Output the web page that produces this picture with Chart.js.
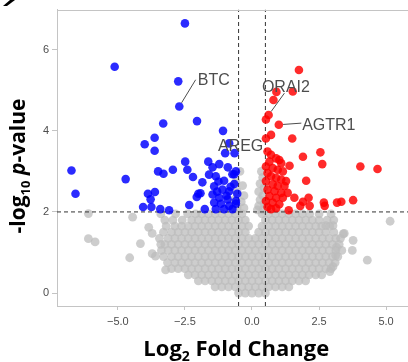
<!DOCTYPE html>
<html>
<head>
<meta charset="utf-8">
<script src="https://cdn.jsdelivr.net/npm/chart.js@4.4.1/dist/chart.umd.min.js"></script>
<style>
  html, body { margin: 0; padding: 0; overflow: hidden; background: #fff; }
</style>
</head>
<body>
<canvas id="volcano" width="420" height="362"></canvas>
<script>
// axis ticks
const xTicks = [-5, -2.5, 0, 2.5, 5];
const xTickLabels = ['−5.0', '−2.5', '0.0', '2.5', '5.0'];
const yTicks = [0, 2, 4, 6];
const yTickLabels = ['0', '2', '4', '6'];

// cut-offs (log2FC and -log10 p)
const fcCut = 0.5;
const pCut = 2;

// down-regulated genes [log2FC, -log10 p]
const downGenes = [
  [-2.50, 6.65], [-5.12, 5.58], [-2.75, 5.22], [-2.71, 4.60], [-3.31, 4.18], [-2.05, 4.24],
  [-1.08, 4.00], [-3.63, 3.83], [-4.00, 3.67], [-3.63, 3.51], [-6.73, 3.02], [-6.58, 2.45],
  [-4.71, 2.81], [-3.50, 3.00], [-3.30, 2.94], [-2.95, 3.04], [-2.49, 3.24], [-2.41, 3.04],
  [-2.20, 2.86], [-1.63, 3.24], [-1.85, 2.73], [-3.88, 2.45], [-3.62, 2.49], [-3.78, 2.31],
  [-4.06, 2.12], [-3.75, 2.12], [-3.42, 2.07], [-3.09, 2.04], [-2.34, 2.17], [-2.00, 2.45],
  [-1.92, 2.46], [-1.76, 2.07], [-2.06, 2.37], [-1.00, 3.45], [-0.65, 3.45], [-0.85, 3.69],
  [-1.22, 3.18], [-1.47, 3.10], [-1.60, 2.92], [-1.35, 2.88], [-1.04, 2.77], [-0.66, 2.93],
  [-0.66, 2.69], [-1.41, 2.63], [-1.10, 2.55], [-0.85, 2.51], [-1.47, 2.43], [-1.22, 2.35],
  [-0.91, 2.31], [-0.60, 2.27], [-1.41, 2.23], [-1.16, 2.20], [-0.85, 2.15], [-0.60, 2.20],
  [-1.35, 2.07], [-0.73, 2.07], [-1.04, 2.07], [-0.73, 2.93], [-0.80, 2.62], [-1.25, 2.75],
  [-0.95, 2.40], [-0.55, 2.45], [-1.30, 2.50], [-0.60, 3.00], [-0.90, 3.10]
];

// up-regulated genes
const upGenes = [
  [1.75, 5.50], [0.91, 4.96], [1.52, 4.97], [0.80, 4.76], [0.62, 4.39], [0.52, 4.28],
  [1.00, 4.15], [0.71, 3.90], [0.52, 3.81], [1.50, 3.81], [2.55, 3.47], [1.90, 3.36],
  [2.62, 3.18], [4.04, 3.12], [4.68, 3.06], [1.40, 3.14], [2.02, 2.77], [1.58, 2.35],
  [2.11, 2.35], [1.90, 2.25], [1.80, 2.15], [2.15, 2.15], [2.68, 2.23], [2.71, 2.15],
  [3.17, 2.23], [3.33, 2.25], [3.77, 2.29], [1.37, 2.04], [0.58, 3.49], [0.71, 3.41],
  [0.90, 3.32], [1.02, 3.28], [1.09, 3.20], [0.65, 3.24], [0.52, 3.12], [0.77, 3.08],
  [0.96, 3.04], [1.15, 3.00], [0.58, 2.96], [0.71, 2.88], [0.90, 2.84], [1.09, 2.80],
  [1.27, 2.76], [0.52, 2.76], [0.77, 2.68], [0.96, 2.64], [1.21, 2.64], [0.58, 2.55],
  [0.84, 2.51], [1.09, 2.47], [1.33, 2.47], [0.65, 2.39], [0.90, 2.35], [1.15, 2.35],
  [0.52, 2.27], [0.77, 2.23], [1.02, 2.19], [0.58, 2.12], [0.90, 2.09], [0.71, 2.07]
];

// not significant genes, read row by row from the cloud
const grayRowY = [0.0, 0.15, 0.3, 0.45, 0.6, 0.75, 0.9, 1.05, 1.2, 1.35, 1.5, 1.65, 1.8, 1.95];
const grayRowX = [
  [-0.5, -0.25, 0, 0.25, 0.5],
  [-1.375, -1.125, -0.875, -0.625, -0.375, -0.125, 0.125, 0.375, 0.625, 0.875, 1.125, 1.375],
  [-2, -1.75, -1.5, -1.25, -1, -0.75, -0.5, -0.25, 0, 0.25, 0.5, 0.75, 1, 1.25, 1.5, 1.75, 2],
  [-2.375, -2.125, -1.875, -1.625, -1.375, -1.125, -0.875, -0.625, -0.375, -0.125, 0.125, 0.375, 0.625, 0.875, 1.125, 1.375, 1.625, 1.875, 2.125, 2.375, 2.6],
  [-3, -2.75, -2.5, -2.25, -2, -1.75, -1.5, -1.25, -1, -0.75, -0.5, -0.25, 0, 0.25, 0.5, 0.75, 1, 1.25, 1.5, 1.75, 2, 2.25, 2.5, 2.75, 2.95],
  [-3.15, -2.875, -2.625, -2.375, -2.125, -1.875, -1.625, -1.375, -1.125, -0.875, -0.625, -0.375, -0.125, 0.125, 0.375, 0.625, 0.875, 1.125, 1.375, 1.625, 1.875, 2.125, 2.375, 2.625, 2.875, 3.1],
  [-3.3, -3, -2.75, -2.5, -2.25, -2, -1.75, -1.5, -1.25, -1, -0.75, -0.5, -0.25, 0, 0.25, 0.5, 0.75, 1, 1.25, 1.5, 1.75, 2, 2.25, 2.5, 2.75, 3, 3.2],
  [-3.375, -3.125, -2.875, -2.625, -2.375, -2.125, -1.875, -1.625, -1.375, -1.125, -0.875, -0.625, -0.375, -0.125, 0.125, 0.375, 0.625, 0.875, 1.125, 1.375, 1.625, 1.875, 2.125, 2.375, 2.625, 2.875, 3.125, 3.35],
  [-3.4, -3.25, -3, -2.75, -2.5, -2.25, -2, -1.75, -1.5, -1.25, -1, -0.75, -0.5, -0.25, 0, 0.25, 0.5, 0.75, 1, 1.25, 1.5, 1.75, 2, 2.25, 2.5, 2.75, 3, 3.25],
  [-3.45, -3.125, -2.875, -2.625, -2.375, -2.125, -1.875, -1.625, -1.375, -1.125, -0.875, -0.625, -0.375, -0.125, 0.125, 0.375, 0.625, 0.875, 1.125, 1.375, 1.625, 1.875, 2.125, 2.375, 2.625, 2.875, 3.125, 3.3],
  [-3.3, -3, -2.75, -2.5, -2.25, -2, -1.75, -1.5, -1.25, -1, -0.75, -0.5, -0.25, 0.25, 0.5, 0.75, 1, 1.25, 1.5, 1.75, 2, 2.25, 2.5, 2.75, 3.05],
  [-3.2, -2.875, -2.625, -2.375, -2.125, -1.875, -1.625, -1.375, -1.125, -0.875, -0.625, -0.375, -0.125, 0.375, 0.625, 0.875, 1.125, 1.375, 1.625, 1.875, 2.125, 2.375, 2.6, 2.9],
  [-3.25, -2.95, -2.6, -2.25, -2, -1.75, -1.5, -1.25, -1, -0.75, -0.5, -0.25, 0.5, 0.75, 1, 1.25, 1.5, 1.75, 2, 2.25, 2.5, 2.8, 3.05],
  [-3.4, -2.85, -2.4, -2.1, -1.875, -1.625, -1.375, -1.125, -0.875, -0.625, -0.375, 0.375, 0.625, 0.875, 1.125, 1.375, 1.625, 1.875, 2.15, 2.5, 2.95]
];
const grayExtra = [
  [-6.10, 1.96], [-6.10, 1.34], [-5.85, 1.26], [-4.56, 0.87], [-4.16, 1.22], [-4.45, 1.87],
  [-3.85, 1.62], [-3.72, 1.47], [-3.72, 0.97], [-3.60, 0.91], [-3.22, 0.57],
  [5.15, 1.77], [4.30, 0.81], [3.77, 1.30], [3.74, 1.05], [3.44, 1.47], [3.12, 0.93],
  [2.75, 1.66], [3.02, 1.66], [3.40, 1.46], [3.15, 1.13], [3.02, 0.65], [2.90, 0.53],
  [-0.45, 3.00], [-0.60, 2.75], [-0.35, 2.65], [-0.55, 2.50], [-0.30, 2.40], [-0.65, 2.30],
  [-0.40, 2.25], [-0.55, 2.10], [-0.30, 2.10], [-0.70, 2.05],
  [0.35, 3.00], [0.40, 2.85], [0.30, 2.70], [0.45, 2.60], [0.25, 2.50], [0.40, 2.40],
  [0.30, 2.30], [0.45, 2.20], [0.25, 2.15], [0.40, 2.05], [0.20, 2.05]
];

// labelled genes: name, point, text anchor (left, baseline), leader end
const labelNames = ['BTC', 'ORAI2', 'AGTR1', 'AREG'];
const labelPoints = [[-2.71, 4.60], [0.62, 4.39], [1.00, 4.15], null];
const labelText = [[-2.02, 5.14], [0.37, 4.95], [1.87, 4.02], [-1.27, 3.50]];
const labelLineEnd = [[-2.10, 5.26], [1.21, 4.93], [1.84, 4.19], null];

const xMin = -7.27, xMax = 6.1, yMin = -0.32, yMax = 6.99;

const toXY = arr => arr.map(p => ({ x: p[0], y: p[1] }));
const grayPoints = grayRowX.flatMap((xs, i) => xs.map(v => ({ x: v, y: grayRowY[i] }))).concat(toXY(grayExtra));

const axisGray = '#c4c4c4';
const textGray = '#4d4d4d';

const overlay = {
  id: 'overlay',
  afterDraw(chart) {
    const { ctx, chartArea: a, scales: { x, y } } = chart;
    ctx.save();

    // top border of the panel
    ctx.strokeStyle = axisGray;
    ctx.lineWidth = 1;
    ctx.beginPath();
    ctx.moveTo(a.left, Math.round(a.top) + 0.5);
    ctx.lineTo(a.right, Math.round(a.top) + 0.5);
    ctx.stroke();

    // gene labels with leader lines
    ctx.font = '16px "Liberation Sans", Arial, sans-serif';
    ctx.fillStyle = textGray;
    ctx.strokeStyle = textGray;
    ctx.textBaseline = 'alphabetic';
    ctx.textAlign = 'left';
    labelNames.forEach((name, i) => {
      const pt = labelPoints[i], end = labelLineEnd[i];
      if (pt && end) {
        const px = x.getPixelForValue(pt[0]), py = y.getPixelForValue(pt[1]);
        const ex = x.getPixelForValue(end[0]), ey = y.getPixelForValue(end[1]);
        const len = Math.hypot(ex - px, ey - py);
        const sx = px + (ex - px) / len * 4.3, sy = py + (ey - py) / len * 4.3;
        ctx.beginPath();
        ctx.moveTo(sx, sy);
        ctx.lineTo(ex, ey);
        ctx.stroke();
      }
      ctx.fillText(name, x.getPixelForValue(labelText[i][0]), y.getPixelForValue(labelText[i][1]));
    });

    // x axis title: Log2 Fold Change
    ctx.fillStyle = '#000';
    const big = 'bold 22px "Open Sans", sans-serif';
    const sub = 'bold 14px "Open Sans", sans-serif';
    const parts = [['Log', big, 0], ['2', sub, 5], [' Fold Change', big, 0]];
    let w = 0;
    parts.forEach(p => { ctx.font = p[1]; w += ctx.measureText(p[0]).width; });
    let cx = (a.left + a.right) / 2 - w / 2;
    parts.forEach(p => {
      ctx.font = p[1];
      ctx.fillText(p[0], cx, 356 + p[2]);
      cx += ctx.measureText(p[0]).width;
    });

    // y axis title: -log10 p-value
    ctx.translate(25, 166);
    ctx.rotate(-Math.PI / 2);
    const bigY = 'bold 21px "Open Sans", sans-serif';
    const subY = 'bold 13px "Open Sans", sans-serif';
    const itY = 'italic bold 21px "Open Sans", sans-serif';
    const yParts = [['-log', bigY, 0], ['10', subY, 5], [' ', bigY, 0], ['p', itY, 0], ['-value', bigY, 0]];
    w = 0;
    yParts.forEach(p => { ctx.font = p[1]; w += ctx.measureText(p[0]).width; });
    cx = -w / 2;
    yParts.forEach(p => {
      ctx.font = p[1];
      ctx.fillText(p[0], cx, p[2]);
      cx += ctx.measureText(p[0]).width;
    });
    ctx.restore();

    // clipped panel letter in the corner
    ctx.save();
    ctx.fillStyle = '#000';
    ctx.beginPath();
    ctx.moveTo(3, 6); ctx.lineTo(7, 6); ctx.lineTo(15, 0); ctx.lineTo(10, 0);
    ctx.closePath();
    ctx.fill();
    ctx.restore();
  }
};

new Chart(document.getElementById('volcano'), {
  type: 'scatter',
  data: {
    datasets: [
      {
        label: 'Down',
        data: toXY(downGenes),
        backgroundColor: 'rgba(0,0,255,0.83)',
        borderWidth: 0,
        pointRadius: 4.3,
        order: 0
      },
      {
        label: 'Up',
        data: toXY(upGenes),
        backgroundColor: 'rgba(255,0,0,0.83)',
        borderWidth: 0,
        pointRadius: 4.3,
        order: 0
      },
      {
        type: 'line',
        label: 'fc-',
        data: [{ x: -fcCut, y: yMin }, { x: -fcCut, y: yMax }],
        borderColor: '#333', borderWidth: 1, borderDash: [4, 3], pointRadius: 0,
        order: 1
      },
      {
        type: 'line',
        label: 'fc+',
        data: [{ x: fcCut, y: yMin }, { x: fcCut, y: yMax }],
        borderColor: '#333', borderWidth: 1, borderDash: [4, 3], pointRadius: 0,
        order: 1
      },
      {
        type: 'line',
        label: 'p',
        data: [{ x: xMin, y: pCut }, { x: xMax, y: pCut }],
        borderColor: '#333', borderWidth: 1, borderDash: [4, 3], pointRadius: 0,
        order: 1
      },
      {
        label: 'NS',
        data: grayPoints,
        backgroundColor: 'rgba(188,188,188,0.75)',
        borderWidth: 0,
        pointRadius: 4.4,
        order: 2
      }
    ]
  },
  options: {
    responsive: false,
    animation: false,
    events: [],
    layout: { padding: { top: 6, right: 2, left: 0, bottom: 0 } },
    plugins: { legend: { display: false }, tooltip: { enabled: false } },
    scales: {
      x: {
        type: 'linear',
        min: xMin, max: xMax,
        afterBuildTicks: s => { s.ticks = xTicks.map(v => ({ value: v })); },
        afterFit: s => { s.height = 56; },
        ticks: {
          autoSkip: false, maxRotation: 0, padding: 5,
          color: textGray,
          font: { family: '"Liberation Sans", Arial, sans-serif', size: 11 },
          callback: (v, i) => xTickLabels[i]
        },
        grid: { drawOnChartArea: false, tickLength: 4, color: axisGray },
        border: { color: axisGray }
      },
      y: {
        type: 'linear',
        min: yMin, max: yMax,
        afterBuildTicks: s => { s.ticks = yTicks.map(v => ({ value: v })); },
        afterFit: s => { s.width = 57; },
        ticks: {
          autoSkip: false, padding: 3,
          color: textGray,
          font: { family: '"Liberation Sans", Arial, sans-serif', size: 11 },
          callback: (v, i) => yTickLabels[i]
        },
        grid: { drawOnChartArea: false, tickLength: 5, color: axisGray },
        border: { color: axisGray }
      }
    }
  },
  plugins: [overlay]
});
</script>
</body>
</html>
